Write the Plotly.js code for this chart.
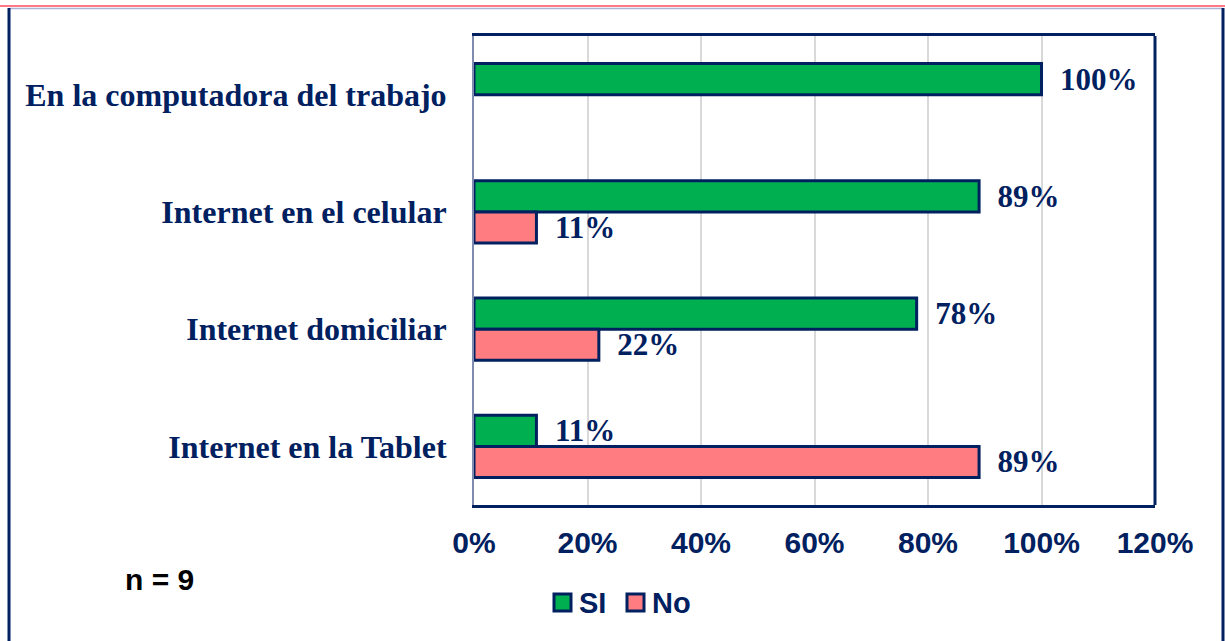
<!DOCTYPE html>
<html>
<head>
<meta charset="utf-8">
<script src="https://cdn.plot.ly/plotly-3.0.1.min.js"></script>
<style>
  html, body { margin: 0; padding: 0; background: #ffffff; }
  #chart { width: 1225px; height: 641px; }
</style>
</head>
<body>
<div id="chart"></div>
<script>
// ---- data ----
const categories = [
  "En la computadora del trabajo",
  "Internet en el celular",
  "Internet domiciliar",
  "Internet en la Tablet"
];
const seriesNames = ["SI", "No"];
const siValues = [1.00, 0.89, 0.78, 0.11];
const noValues = [null, 0.11, 0.22, 0.89];
const xTickValues = [0, 0.2, 0.4, 0.6, 0.8, 1.0, 1.2];
const xTickLabels = ["0%", "20%", "40%", "60%", "80%", "100%", "120%"];
const noteText = "n = 9";

// ---- style ----
const NAVY = "#002060";
const COLORS = ["#00B050", "#FF7C80"];
const W = 1225, H = 641;
const M = { l: 474, r: 70, t: 36, b: 136 };
const PW = W - M.l - M.r, PH = H - M.t - M.b;
const px = x => (x - M.l) / PW;
const py = y => (H - M.b - y) / PH;

const serif = "Liberation Serif, Times New Roman, serif";
const sans = "Liberation Sans, Arial, sans-serif";

const barText = '\u00A0\u00A0%{x:.0%}';

const valueSets = [siValues, noValues];
const traces = seriesNames.map((name, i) => ({
  type: "bar", orientation: "h", name: name,
  y: categories, x: valueSets[i],
  marker: { color: COLORS[i], line: { color: NAVY, width: 3 } },
  texttemplate: barText, textposition: "outside", cliponaxis: false,
  constraintext: "none",
  textfont: { family: serif, size: 31, color: NAVY, weight: "bold" },
  hoverinfo: "skip"
}));

// custom legend (bigger squares like the original)
const legendItems = [
  { sx: 554, tx: 577 },
  { sx: 627, tx: 650 }
];
const legendShapes = legendItems.map((it, i) => ({
  type: "rect", xref: "paper", yref: "paper",
  x0: px(it.sx), x1: px(it.sx + 17), y0: py(611), y1: py(594),
  fillcolor: COLORS[i], line: { color: NAVY, width: 3 }
}));
const legendTexts = legendItems.map((it, i) => ({
  xref: "paper", yref: "paper", x: px(it.tx), y: py(603),
  xanchor: "left", yanchor: "middle", showarrow: false,
  text: seriesNames[i],
  font: { family: sans, size: 29, color: NAVY, weight: "bold" }
}));

const layout = {
  width: W, height: H,
  margin: M,
  paper_bgcolor: "#ffffff", plot_bgcolor: "#ffffff",
  barmode: "group", bargap: 0.47, bargroupgap: 0,
  showlegend: false,
  xaxis: {
    range: [0, 1.2], tickvals: xTickValues, ticktext: xTickLabels,
    showgrid: true, gridcolor: "#d9d9d9", gridwidth: 2,
    zeroline: false, showline: true, linecolor: NAVY, linewidth: 3, mirror: true,
    ticks: "", ticklabelstandoff: 9,
    tickfont: { family: sans, size: 30, color: NAVY, weight: "bold" },
    fixedrange: true
  },
  yaxis: {
    autorange: "reversed", type: "category",
    showgrid: false, zeroline: false, showline: true, linecolor: "#7f8cb0", linewidth: 2,
    ticks: "", ticklabelstandoff: 19,
    tickfont: { family: serif, size: 32, color: NAVY, weight: "bold" },
    fixedrange: true
  },
  shapes: [
    { type: "line", xref: "paper", yref: "paper", x0: 1, x1: 1, y0: 0, y1: 1,
      line: { color: NAVY, width: 3 } },
    { type: "line", xref: "paper", yref: "paper", x0: px(0), x1: px(1225), y0: py(6), y1: py(6),
      line: { color: "#ff4d5e", width: 1.5 } },
    { type: "line", xref: "paper", yref: "paper", x0: px(9), x1: px(1223), y0: py(8.5), y1: py(8.5),
      line: { color: "#aab4d6", width: 1.5 } },
    { type: "line", xref: "paper", yref: "paper", x0: px(9), x1: px(9), y0: py(8), y1: py(645),
      line: { color: NAVY, width: 3 } },
    { type: "line", xref: "paper", yref: "paper", x0: px(1223), x1: px(1223), y0: py(8), y1: py(645),
      line: { color: NAVY, width: 3 } }
  ].concat(legendShapes),
  annotations: [
    { xref: "paper", yref: "paper", x: px(159), y: py(579), xanchor: "center", yanchor: "middle",
      text: noteText, showarrow: false,
      font: { family: sans, size: 30, color: "#000000", weight: "bold" } }
  ].concat(legendTexts)
};

Plotly.newPlot("chart", traces, layout, { displayModeBar: false, staticPlot: true });
</script>
</body>
</html>
